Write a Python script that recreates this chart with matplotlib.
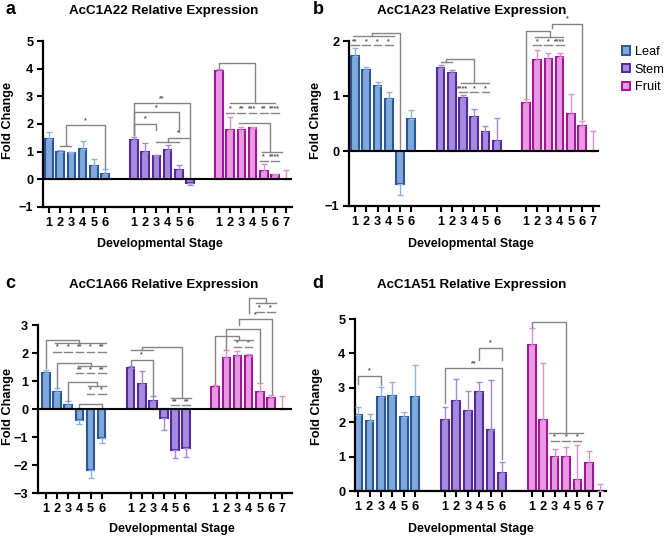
import matplotlib.pyplot as plt
from matplotlib.patches import Patch

plt.rcParams['font.family'] = ['Liberation Sans', 'DejaVu Sans']
plt.rcParams['font.weight'] = 'bold'

tissues = ['Leaf', 'Stem', 'Fruit']
edge_colors = ['#2B5797', '#54299A', '#A3169C']
fill_colors = ['#7FA8DC', '#A58BDD', '#E89AE3']
err_colors = ['#8DB3E2', '#A48AD8', '#DD8FD9']
stage_labels = [['1', '2', '3', '4', '5', '6'],
                ['1', '2', '3', '4', '5', '6'],
                ['1', '2', '3', '4', '5', '6', '7']]
group_offset = {'L': 0.0, 'S': 7.6, 'F': 15.2}


def p(g, s):
    # position of stage s (can be fractional) in tissue group g
    return group_offset[g] + s - 1


# ---- panel a: AcC1A22 ----
a_leaf = [1.45, 1.0, 0.95, 1.1, 0.47, 0.2]
a_leaf_err = [0.25, 0.05, 0.05, 0.28, 0.25, 0.18]
a_stem = [1.43, 1.0, 0.83, 1.05, 0.35, -0.15]
a_stem_err = [0.1, 0.33, 0.05, 0.2, 0.15, 0.07]
a_fruit = [3.9, 1.78, 1.78, 1.87, 0.3, 0.15, 0.0]
a_fruit_err = [0.08, 0.48, 0.12, 0.03, 0.27, 0.03, 0.32]
# brackets: (x1, x2, top, left end, right end, label)
a_brackets = [(p('L', 2.5), p('L', 6), 1.95, 1.2, 0.42, '*'),
              (p('S', 1), p('S', 3), 2.0, 1.62, 1.8, '*'),
              (p('S', 1), p('S', 5), 2.42, 1.62, 1.72, '*'),
              (p('S', 1), p('S', 6), 2.75, 1.62, 1.47, '**'),
              (p('S', 4), p('S', 6), 1.5, 1.35, 0.08, '*'),
              (p('F', 1), p('F', 4.2), 4.22, 4.0, 2.75, ''),
              (p('F', 2.8), p('F', 5.6), 2.05, 2.05, 0.97, '')]
a_lines = [(p('L', 2), p('L', 3), 1.2),
           (p('S', 3), p('S', 5), 1.35),
           (p('F', 2), p('F', 6), 2.75),
           (p('F', 4.85), p('F', 6.65), 0.97)]
a_rows = [([p('F', s) for s in [2, 3, 4, 5, 6]], ['*', '**', '***', '**', '****'], 2.56, 2.4),
          ([p('F', 5), p('F', 6)], ['*', '****'], 0.82, 0.68)]

# ---- panel b: AcC1A23 ----
b_leaf = [1.72, 1.47, 1.18, 0.95, -0.6, 0.58]
b_leaf_err = [0.15, 0.05, 0.07, 0.12, 0.2, 0.17]
b_stem = [1.51, 1.41, 0.96, 0.61, 0.34, 0.18]
b_stem_err = [0.05, 0.07, 0.05, 0.16, 0.12, 0.42]
b_fruit = [0.87, 1.65, 1.67, 1.71, 0.68, 0.45, 0.0]
b_fruit_err = [0.08, 0.19, 0.11, 0.08, 0.36, 0.1, 0.37]
b_brackets = [(p('L', 2.5), p('L', 5), 2.14, 2.09, 0.02, ''),
              (p('S', 1.5), p('S', 4), 1.67, 1.61, 1.23, ''),
              (p('F', 1), p('F', 3.1), 2.19, 0.97, 2.08, ''),
              (p('F', 3.3), p('F', 6), 2.31, 2.24, 0.58, '*')]
b_lines = [(p('L', 0.8), p('L', 4.5), 2.09),
           (p('S', 1), p('S', 2), 1.61),
           (p('S', 2.8), p('S', 5.3), 1.23),
           (p('F', 1.8), p('F', 4.3), 2.08)]
b_rows = [([p('L', s) for s in [1, 2, 3, 4]], ['**', '*', '*', '*'], 1.99, 1.92),
          ([p('S', s) for s in [3, 4, 5]], ['****', '*', '*'], 1.14, 1.07),
          ([p('F', s) for s in [2, 3, 4]], ['*', '*', '****'], 1.99, 1.93)]

# ---- panel c: AcC1A66 ----
c_leaf = [1.27, 0.6, 0.13, -0.4, -2.17, -1.05]
c_leaf_err = [0.11, 0.15, 0.15, 0.12, 0.3, 0.17]
c_stem = [1.45, 0.9, 0.28, -0.33, -1.45, -1.4]
c_stem_err = [0.07, 0.45, 0.17, 0.42, 0.3, 0.32]
c_fruit = [0.8, 1.83, 1.9, 1.88, 0.6, 0.4, 0.0]
c_fruit_err = [0.07, 0.27, 0.17, 0.1, 0.33, 0.1, 0.48]
c_brackets = [(p('L', 1), p('L', 4), 2.46, 1.45, 2.37, ''),
              (p('L', 2), p('L', 5), 1.65, 0.78, 1.52, ''),
              (p('L', 3), p('L', 5.6), 0.95, 0.3, 0.83, ''),
              (p('L', 4), p('L', 6), 0.18, 0.03, 0.03, ''),
              (p('S', 2), p('S', 5.6), 2.2, 2.1, 0.38, ''),
              (p('S', 1), p('S', 3), 1.75, 1.58, 0.5, '*'),
              (p('F', 1), p('F', 3.1), 2.6, 0.9, 2.48, ''),
              (p('F', 2), p('F', 5.05), 2.84, 2.15, 0.97, ''),
              (p('F', 3.1), p('F', 6.1), 3.2, 3.0, 0.55, '*'),
              (p('F', 4.05), p('F', 5.55), 3.97, 3.44, 3.78, '')]
c_lines = [(p('L', 1.8), p('L', 6.4), 2.37),
           (p('L', 3.9), p('L', 6.4), 1.52),
           (p('L', 4.8), p('L', 6.4), 0.83),
           (p('S', 1), p('S', 3), 2.1),
           (p('S', 4.6), p('S', 6.4), 0.38),
           (p('F', 2.7), p('F', 4.4), 2.48),
           (p('F', 4.7), p('F', 6.5), 3.78)]
c_rows = [([p('L', s) for s in [2, 3, 4, 5, 6]], ['*', '*', '**', '*', '**'], 2.22, 2.05),
          ([p('L', s) for s in [4, 5, 6]], ['**', '*', '**'], 1.42, 1.27),
          ([p('L', s) for s in [5, 6]], ['*', '*'], 0.7, 0.55),
          ([p('S', s) for s in [5, 6]], ['**', '**'], 0.27, 0.14),
          ([p('F', s) for s in [3, 4]], ['*', '*'], 2.35, 2.2),
          ([p('F', s) for s in [5, 6]], ['*', '*'], 3.62, 3.45)]

# ---- panel d: AcC1A51 ----
d_leaf = [2.22, 2.03, 2.73, 2.75, 2.15, 2.73]
d_leaf_err = [0.21, 0.22, 0.29, 0.41, 0.15, 0.94]
d_stem = [2.05, 2.63, 2.33, 2.87, 1.78, 0.53]
d_stem_err = [0.4, 0.63, 0.57, 0.31, 1.45, 0.3]
d_fruit = [4.25, 2.07, 1.0, 1.0, 0.33, 0.8, 0.0]
d_fruit_err = [0.48, 1.65, 0.23, 0.28, 1.0, 0.35, 0.2]
d_brackets = [(p('L', 1), p('L', 3), 3.35, 3.12, 3.08, '*'),
              (p('S', 1), p('S', 6), 3.57, 2.55, 0.92, '**'),
              (p('S', 4), p('S', 6), 4.17, 3.8, 3.8, '*'),
              (p('F', 1), p('F', 4), 4.9, 4.78, 1.68, '')]
d_lines = [(p('F', 2.5), p('F', 5.5), 1.68)]
d_rows = [([p('F', s) for s in [3, 4, 5]], ['*', '*', '*'], 1.58, 1.45)]

W, H = 668, 539


def fx(px):
    return px / W


def fy(py):
    return 1 - py / H


def draw_panel(ax, series, errors, ylim, yticks, xlim, brackets, lines, rows, zero_line):
    groups = ['L', 'S', 'F']
    ticks, labels = [], []
    for gi, (vals, errs) in enumerate(zip(series, errors)):
        xs = [p(groups[gi], i + 1) for i in range(len(vals))]
        ax.bar(xs, vals, width=0.68, color=fill_colors[gi], edgecolor=edge_colors[gi],
               linewidth=1.5, zorder=2)
        lo = [e if v < 0 else 0 for v, e in zip(vals, errs)]
        hi = [0 if v < 0 else e for v, e in zip(vals, errs)]
        ax.errorbar(xs, vals, yerr=[lo, hi], fmt='none', ecolor=err_colors[gi],
                    elinewidth=1, capsize=2, capthick=1, zorder=3)
        ticks += xs
        labels += stage_labels[gi]
    gray = '#858585'
    for x1, x2, top, h1, h2, lab in brackets:
        ax.plot([x1, x1, x2, x2], [h1, top, top, h2], color=gray, lw=1, clip_on=False, zorder=4)
        if lab:
            ax.annotate(lab, ((x1 + x2) / 2, top), xytext=(0, 1), textcoords='offset points',
                        ha='center', va='bottom', fontsize=5, color='#555555',
                        annotation_clip=False)
    for x1, x2, yy in lines:
        ax.plot([x1, x2], [yy, yy], color=gray, lw=1, clip_on=False, zorder=4)
    for xs, labs, ys, yd in rows:
        for x, lab in zip(xs, labs):
            ax.text(x, ys, lab, ha='center', va='center', fontsize=5, color='#555555',
                    clip_on=False)
            ax.plot([x - 0.35, x + 0.35], [yd, yd], color=gray, lw=1, clip_on=False, zorder=4)
    if zero_line:
        ax.axhline(0, color='black', lw=1.5, zorder=5)
    ax.set_xlim(*xlim)
    ax.set_ylim(*ylim)
    ax.set_yticks(yticks)
    ax.set_xticks(ticks)
    ax.set_xticklabels(labels)
    for s in ['top', 'right']:
        ax.spines[s].set_visible(False)
    for s in ['left', 'bottom']:
        ax.spines[s].set_linewidth(1.6)
    ax.tick_params(direction='out', length=4.5, width=1.5, labelsize=9.2, pad=2.5)


fig = plt.figure(figsize=(W / 100, H / 100), dpi=100)

ax_a = fig.add_axes([fx(43), fy(207), fx(292) - fx(43), fy(41) - fy(207)])
draw_panel(ax_a, [a_leaf, a_stem, a_fruit], [a_leaf_err, a_stem_err, a_fruit_err],
           (-1, 5), [-1, 0, 1, 2, 3, 4, 5], (-0.54, 21.73), a_brackets, a_lines, a_rows, True)

ax_b = fig.add_axes([fx(349), fy(206), fx(599) - fx(349), fy(41) - fy(206)])
draw_panel(ax_b, [b_leaf, b_stem, b_fruit], [b_leaf_err, b_stem_err, b_fruit_err],
           (-1, 2), [-1, 0, 1, 2], (-0.54, 21.7), b_brackets, b_lines, b_rows, True)

ax_c = fig.add_axes([fx(38), fy(493), fx(292) - fx(38), fy(325) - fy(493)])
draw_panel(ax_c, [c_leaf, c_stem, c_fruit], [c_leaf_err, c_stem_err, c_fruit_err],
           (-3, 3), [-3, -2, -1, 0, 1, 2, 3], (-0.72, 22.1), c_brackets, c_lines, c_rows, True)

ax_d = fig.add_axes([fx(355), fy(491), fx(606) - fx(355), fy(319) - fy(491)])
draw_panel(ax_d, [d_leaf, d_stem, d_fruit], [d_leaf_err, d_stem_err, d_fruit_err],
           (0, 5), [0, 1, 2, 3, 4, 5], (-0.27, 21.7), d_brackets, d_lines, d_rows, False)

titles = ['AcC1A22 Relative Expression', 'AcC1A23 Relative Expression',
          'AcC1A66 Relative Expression', 'AcC1A51 Relative Expression']
title_pos = [(164, 11), (472, 11), (164, 285), (472, 285)]
letters = ['a', 'b', 'c', 'd']
letter_pos = [(10, 10), (318, 10), (10, 283), (318, 283)]
xlabel_pos = [(160, 244), (471, 244), (172, 529), (471, 529)]
ylabel_pos = [(8, 120), (316, 120), (8, 406), (317, 406)]

for t, (tx, ty) in zip(titles, title_pos):
    fig.text(fx(tx), fy(ty), t, ha='center', va='center', fontsize=9.6, fontweight='bold')
for l, (lx, ly) in zip(letters, letter_pos):
    fig.text(fx(lx), fy(ly), l, ha='center', va='center', fontsize=13, fontweight='bold')
for (lx, ly) in xlabel_pos:
    fig.text(fx(lx), fy(ly), 'Developmental Stage', ha='center', va='center',
             fontsize=8.9, fontweight='bold')
for (lx, ly) in ylabel_pos:
    fig.text(fx(lx), fy(ly), 'Fold Change', ha='center', va='center', rotation=90,
             fontsize=9.2, fontweight='bold')

handles = [Patch(facecolor=fc, edgecolor=ec, linewidth=1.4, label=t)
           for fc, ec, t in zip(fill_colors, edge_colors, tissues)]
fig.legend(handles=handles, loc='upper left', bbox_to_anchor=(fx(618), fy(42)),
           frameon=False, handlelength=0.65, handleheight=0.65,
           handletextpad=0.35, labelspacing=0.45, borderaxespad=0, borderpad=0.3,
           prop={'size': 9.2, 'weight': 'normal'})

fig.savefig('out.png', dpi=100)
